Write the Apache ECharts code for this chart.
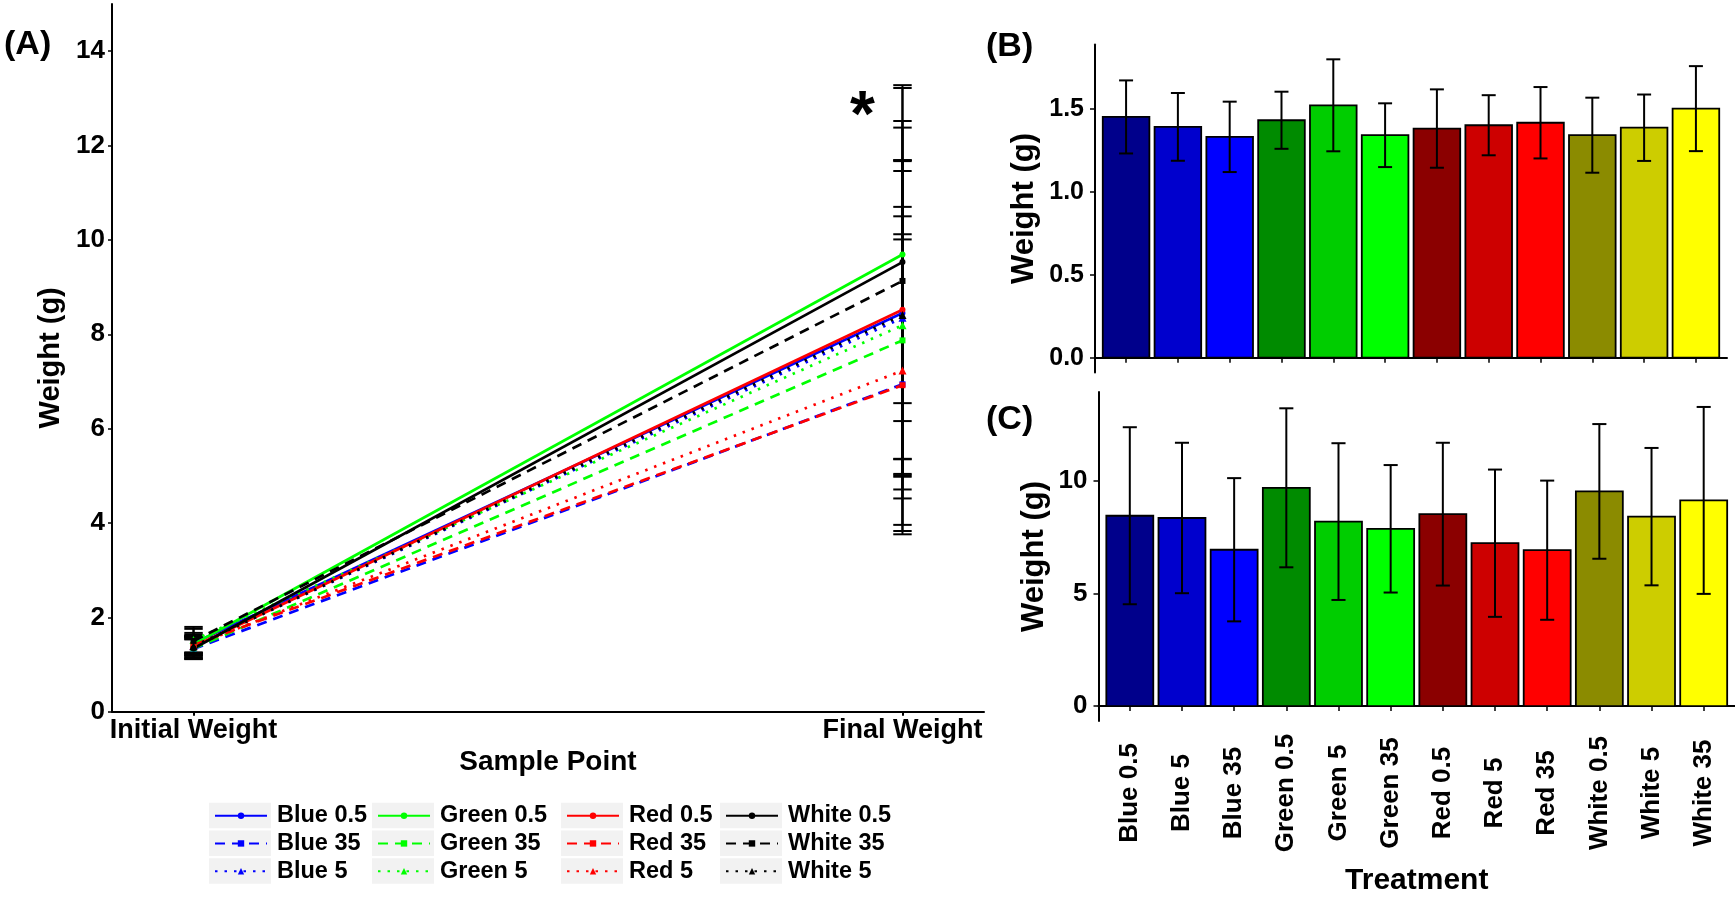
<!DOCTYPE html>
<html>
<head>
<meta charset="utf-8">
<title>Weight by treatment</title>
<script src="https://cdn.jsdelivr.net/npm/echarts@6/dist/echarts.min.js"></script>
<style>
  html, body { margin: 0; padding: 0; background: #ffffff; }
  #chart { width: 1735px; height: 897px; }
</style>
</head>
<body>
<div id="chart"></div>
<script>
// Treatments (light colour + intensity), in bar order
const treatments = ['Blue 0.5', 'Blue 5', 'Blue 35', 'Green 0.5', 'Green 5', 'Green 35',
                    'Red 0.5', 'Red 5', 'Red 35', 'White 0.5', 'White 5', 'White 35'];
// Mean and SD of weight (g) at the initial sample point
const initialMean = [1.45, 1.39, 1.33, 1.43, 1.52, 1.34, 1.38, 1.40, 1.415, 1.34, 1.385, 1.50];
const initialSd   = [0.22, 0.204, 0.212, 0.172, 0.277, 0.192, 0.236, 0.181, 0.215, 0.226, 0.20, 0.256];
// Mean and SD of weight (g) at the final sample point
const finalMean = [8.45, 8.35, 6.94, 9.69, 8.19, 7.87, 8.52, 7.23, 6.92, 9.53, 8.41, 9.13];
const finalSd   = [3.93, 3.34, 3.18, 3.53, 3.48, 2.83, 3.17, 3.27, 3.09, 2.99, 3.05, 4.15];
// Legend order in panel A (column by column)
const legendOrder = ['Blue 0.5', 'Blue 35', 'Blue 5', 'Green 0.5', 'Green 35', 'Green 5',
                     'Red 0.5', 'Red 35', 'Red 5', 'White 0.5', 'White 35', 'White 5'];
const samplePoints = ['Initial Weight', 'Final Weight'];
// Tick labels
const aTicks = [0, 2, 4, 6, 8, 10, 12, 14];
const bTicks = [0, 0.5, 1.0, 1.5];
const cTicks = [0, 5, 10];
const barPositions = treatments.map((t, i) => i + 1);

// Styles
const barColors = ['#00008B', '#0000CD', '#0000FF', '#008B00', '#00CD00', '#00FF00',
                   '#8B0000', '#CD0000', '#FF0000', '#8B8B00', '#CDCD00', '#FFFF00'];
const lightColors = { Blue: '#0000FF', Green: '#00FF00', Red: '#FF0000', White: '#000000' };
const intensityStyle = {
  '0.5': { type: 'solid',  symbol: 'circle',   size: 6 },
  '35':  { type: [10, 7],  symbol: 'rect',     size: 6 },
  '5':   { type: [2.5, 7], symbol: 'triangle', size: 8 }
};
const FONT = "'Liberation Sans', Arial, Helvetica, sans-serif";
const BLACK = '#000000';

// y ranges of the bar panels: 5% padding around [0, highest error bar]
function paddedRange(mean, sd) {
  const top = Math.max(...mean.map((m, i) => m + sd[i]));
  return [-0.05 * top, 1.05 * top];
}
const bRange = paddedRange(initialMean, initialSd);
const cRange = paddedRange(finalMean, finalSd);

function axisText(size) {
  return { fontFamily: FONT, fontWeight: 'bold', fontSize: size, color: BLACK };
}
const axisLine = { show: true, lineStyle: { color: BLACK, width: 2 } };

// Error bar: vertical stroke plus caps; cap width given in x-axis units
function errorBar(capUnits) {
  return function (params, api) {
    const x = api.value(0), m = api.value(1), s = api.value(2);
    const top = api.coord([x, m + s]);
    const bot = api.coord([x, m - s]);
    const hw = api.size([capUnits, 0])[0] / 2;
    const st = { stroke: BLACK, lineWidth: 2 };
    return {
      type: 'group',
      children: [
        { type: 'line', shape: { x1: top[0], y1: top[1], x2: bot[0], y2: bot[1] }, style: st },
        { type: 'line', shape: { x1: top[0] - hw, y1: top[1], x2: top[0] + hw, y2: top[1] }, style: st },
        { type: 'line', shape: { x1: bot[0] - hw, y1: bot[1], x2: bot[0] + hw, y2: bot[1] }, style: st }
      ]
    };
  };
}

function renderBar(params, api) {
  const x = api.value(0), y = api.value(1);
  const p0 = api.coord([x - 0.45, 0]);
  const p1 = api.coord([x + 0.45, y]);
  return {
    type: 'rect',
    shape: { x: p0[0], y: p1[1], width: p1[0] - p0[0], height: p0[1] - p1[1] },
    style: { fill: barColors[params.dataIndex], stroke: BLACK, lineWidth: 1.8 }
  };
}

const series = [];

// Panel A: error bars at both sample points
const aErr = [];
treatments.forEach((t, i) => {
  aErr.push([1, initialMean[i], initialSd[i]]);
  aErr.push([2, finalMean[i], finalSd[i]]);
});
series.push({
  type: 'custom', xAxisIndex: 0, yAxisIndex: 0, z: 1,
  renderItem: errorBar(0.026), encode: { x: 0, y: 1 }, data: aErr, silent: true
});

// Panel A: one line per treatment
legendOrder.forEach(name => {
  const i = treatments.indexOf(name);
  const [light, intensity] = name.split(' ');
  const st = intensityStyle[intensity];
  const color = lightColors[light];
  series.push({
    name: name, type: 'line', xAxisIndex: 0, yAxisIndex: 0, z: 3,
    data: [[1, initialMean[i]], [2, finalMean[i]]],
    symbol: st.symbol, symbolSize: st.size, showSymbol: true,
    lineStyle: { color: color, width: 2.7, type: st.type },
    itemStyle: { color: color },
    emphasis: { disabled: true }
  });
});

// Panel B: initial weight bars
series.push({
  type: 'custom', xAxisIndex: 1, yAxisIndex: 1, z: 2, renderItem: renderBar,
  encode: { x: 0, y: 1 }, data: barPositions.map((x, i) => [x, initialMean[i]])
});
series.push({
  type: 'custom', xAxisIndex: 1, yAxisIndex: 1, z: 3, renderItem: errorBar(0.27),
  encode: { x: 0, y: 1 }, data: barPositions.map((x, i) => [x, initialMean[i], initialSd[i]])
});

// Panel C: final weight bars
series.push({
  type: 'custom', xAxisIndex: 2, yAxisIndex: 2, z: 2, renderItem: renderBar,
  encode: { x: 0, y: 1 }, data: barPositions.map((x, i) => [x, finalMean[i]])
});
series.push({
  type: 'custom', xAxisIndex: 2, yAxisIndex: 2, z: 3, renderItem: errorBar(0.27),
  encode: { x: 0, y: 1 }, data: barPositions.map((x, i) => [x, finalMean[i], finalSd[i]])
});

// Legend: four columns of three keys, each key on a light grey box
const keyLefts = [209, 372, 561, 720];
const keyTop = 802.7, keyPitch = 27.75, keyW = 62, keyH = 25.6;
const legends = keyLefts.map((left, c) => ({
  orient: 'vertical', left: left + 5, top: keyTop + 1, padding: 0,
  itemWidth: 52, itemHeight: 8, itemGap: keyPitch - 24, z: 4,
  selectedMode: false,
  data: legendOrder.slice(c * 3, c * 3 + 3),
  textStyle: { fontFamily: FONT, fontWeight: 'bold', fontSize: 23.5, color: BLACK,
               lineHeight: 24, padding: [0, 0, 0, 5] }
}));

const keyBoxes = [];
keyLefts.forEach(left => {
  for (let r = 0; r < 3; r++) {
    keyBoxes.push({ type: 'rect', z: 0, silent: true,
      shape: { x: left, y: keyTop + r * keyPitch, width: keyW, height: keyH },
      style: { fill: '#F2F2F2' } });
  }
});

const panelLabel = (text, x, y) => ({
  type: 'text', x: x, y: y, z: 5, silent: true,
  style: { text: text, fontFamily: FONT, fontWeight: 'bold', fontSize: 34, fill: BLACK,
           textVerticalAlign: 'middle' }
});

const option = {
  animation: false,
  backgroundColor: '#ffffff',
  grid: [
    { left: 112, top: 4, width: 872, height: 707.7 },
    { left: 1095, top: 44.4, width: 632, height: 328.2 },
    { left: 1098.5, top: 392, width: 640, height: 330 }
  ],
  xAxis: [
    { type: 'value', gridIndex: 0, min: 0.885, max: 2.115,
      axisLine: axisLine, splitLine: { show: false },
      axisTick: { show: true, customValues: [1, 2], length: 4, lineStyle: { color: BLACK, width: 2 } },
      axisLabel: { customValues: [1, 2], formatter: v => samplePoints[Math.round(v) - 1],
                   margin: 5, ...axisText(27) },
      name: 'Sample Point', nameLocation: 'middle', nameGap: 35, nameTextStyle: axisText(28) },
    { type: 'value', gridIndex: 1, min: 0.4, max: 12.6,
      axisLine: axisLine, splitLine: { show: false },
      axisTick: { show: true, customValues: barPositions, length: 5, lineStyle: { color: BLACK, width: 1.5 } },
      axisLabel: { show: false } },
    { type: 'value', gridIndex: 2, min: 0.4, max: 12.6,
      axisLine: axisLine, splitLine: { show: false },
      axisTick: { show: true, customValues: barPositions, length: 5, lineStyle: { color: BLACK, width: 1.5 } },
      axisLabel: { customValues: barPositions, formatter: v => treatments[Math.round(v) - 1],
                   rotate: 90, align: 'center', verticalAlign: 'middle', margin: 72, ...axisText(26) },
      name: 'Treatment', nameLocation: 'middle', nameGap: 145, nameTextStyle: axisText(30) }
  ],
  yAxis: [
    { type: 'value', gridIndex: 0, min: 0, max: 15,
      axisLine: axisLine, splitLine: { show: false },
      axisTick: { show: true, customValues: aTicks, length: 4, lineStyle: { color: BLACK, width: 1.5 } },
      axisLabel: { customValues: aTicks, margin: 7, ...axisText(26) },
      name: 'Weight (g)', nameLocation: 'middle', nameGap: 42, nameTextStyle: axisText(29) },
    { type: 'value', gridIndex: 1, min: bRange[0], max: bRange[1],
      axisLine: axisLine, splitLine: { show: false },
      axisTick: { show: true, customValues: bTicks, length: 5, lineStyle: { color: BLACK, width: 1.5 } },
      axisLabel: { customValues: bTicks, formatter: v => v.toFixed(1), margin: 11, ...axisText(25) },
      name: 'Weight (g)', nameLocation: 'middle', nameGap: 55, nameTextStyle: axisText(31) },
    { type: 'value', gridIndex: 2, min: cRange[0], max: cRange[1],
      axisLine: axisLine, splitLine: { show: false },
      axisTick: { show: true, customValues: cTicks, length: 5, lineStyle: { color: BLACK, width: 1.5 } },
      axisLabel: { customValues: cTicks, margin: 11, ...axisText(26) },
      name: 'Weight (g)', nameLocation: 'middle', nameGap: 49, nameTextStyle: axisText(31) }
  ],
  legend: legends,
  graphic: [
    ...keyBoxes,
    panelLabel('(A)', 4, 45),
    panelLabel('(B)', 986, 47),
    panelLabel('(C)', 986, 420),
    { type: 'text', x: 850, y: 118, z: 5, silent: true,
      style: { text: '*', fontFamily: FONT, fontWeight: 'bold', fontSize: 64, fill: BLACK,
               textVerticalAlign: 'middle' } }
  ],
  series: series
};

const chart = echarts.init(document.getElementById('chart'));
chart.setOption(option);
</script>
</body>
</html>
